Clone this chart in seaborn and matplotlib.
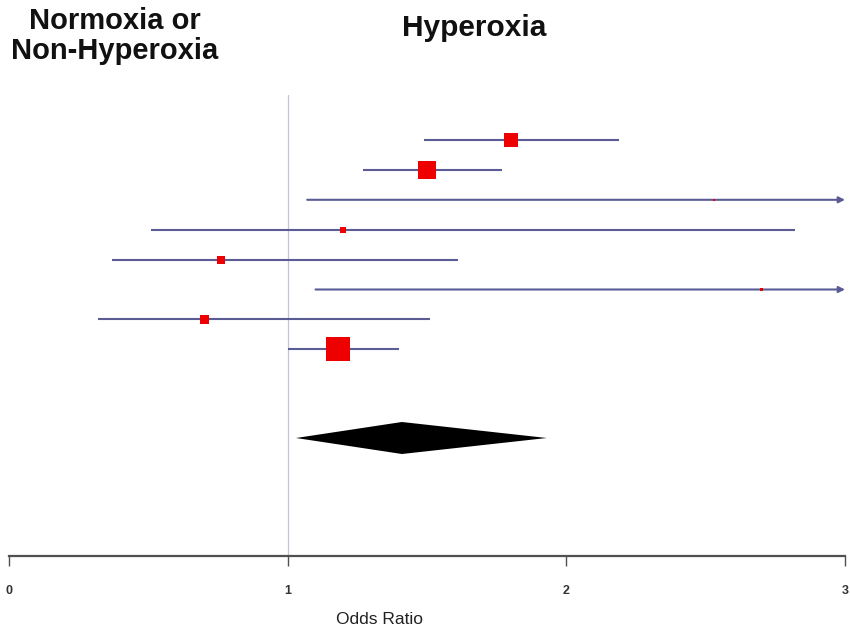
import numpy as np
import pandas as pd
import matplotlib
matplotlib.use("Agg")
import matplotlib.pyplot as plt
import seaborn as sns

# ---- data ----
study = ["S1", "S2", "S3", "S4", "S5", "S6", "S7", "S8"]
odds_ratio = [1.80, 1.50, 2.53, 1.20, 0.76, 2.70, 0.70, 1.18]
ci_low = [1.49, 1.27, 1.07, 0.51, 0.37, 1.10, 0.32, 1.00]
ci_high = [2.19, 1.77, 5.00, 2.82, 1.61, 5.00, 1.51, 1.40]
square_px = [14, 18, 2, 6, 8, 3, 9, 24]   # marker side in pixels (weight)
pooled = [1.03, 1.41, 1.93]                # low, estimate, high
x_ticks = [0, 1, 2, 3]
x_tick_labels = ["0", "1", "2", "3"]

df = pd.DataFrame({"study": study, "or": odds_ratio, "lo": ci_low,
                   "hi": ci_high, "w": square_px})
df["row"] = np.arange(len(df))

W, H = 850, 632
fig = plt.figure(figsize=(W / 100, H / 100), dpi=100)
sns.set_style("white")
plt.rcParams["font.family"] = ["Liberation Sans", "DejaVu Sans"]

ax_left, ax_right = 9 / W, 845 / W
ax_bottom = 1 - 556 / H
ax_top = 1 - 95 / H
ax = fig.add_axes([ax_left, ax_bottom, ax_right - ax_left, ax_top - ax_bottom])

xmin, xmax = 0, 3
row_px = 29.9
y_top = -(140 - 95) / row_px
y_bot = (556 - 140) / row_px
ax.set_xlim(xmin, xmax)
ax.set_ylim(y_bot, y_top)

line_color = "#5b5b96"
ax.axvline(1, color="#c4c4d2", lw=0.9, zorder=0)

for _, r in df.iterrows():
    hi = min(r["hi"], xmax)
    if r["hi"] > xmax:
        ax.annotate("", xy=(xmax, r["row"]), xytext=(r["lo"], r["row"]),
                    arrowprops=dict(arrowstyle="-|>", color=line_color, lw=1.5,
                                    mutation_scale=9, shrinkA=0, shrinkB=0),
                    zorder=2, annotation_clip=False)
    else:
        ax.hlines(r["row"], r["lo"], hi, color=line_color, lw=1.5, zorder=2)

sizes = [(p / 1.389) ** 2 for p in df["w"]]
sns.scatterplot(data=df, x="or", y="row", marker="s", s=sizes,
                color="#ee0000", edgecolor="none", linewidth=0, ax=ax,
                zorder=3, legend=False)

# pooled diamond
yd = (438 - 140) / row_px
hd = 16 / row_px
lo, est, hi = pooled
ax.fill([lo, est, hi, est], [yd, yd - hd, yd, yd + hd], color="black",
        lw=0, zorder=3)

for s in ["top", "left", "right"]:
    ax.spines[s].set_visible(False)
ax.spines["bottom"].set_color("#505050")
ax.spines["bottom"].set_linewidth(1.6)
ax.set_yticks([])
ax.set_xticks(x_ticks)
ax.set_xticklabels(x_tick_labels, fontsize=9, fontweight="bold",
                   color="#333333")
ax.tick_params(axis="x", length=7, width=1, color="#505050", pad=14,
               direction="out", bottom=True)
ax.set_xlabel("")
ax.set_ylabel("")

fig.text(380 / W, 1 - 620 / H, "Odds Ratio", fontsize=12.5, ha="center",
         va="center", color="#222222")
fig.text(115 / W, 1 - 7 / H, "Normoxia or\nNon-Hyperoxia", fontsize=21,
         fontweight="bold", ha="center", va="top", multialignment="center",
         linespacing=1.1, color="#111111")
fig.text(402 / W, 1 - 14 / H, "Hyperoxia", fontsize=21.5, fontweight="bold",
         ha="left", va="top", color="#111111")

fig.savefig("out.png", dpi=100)
